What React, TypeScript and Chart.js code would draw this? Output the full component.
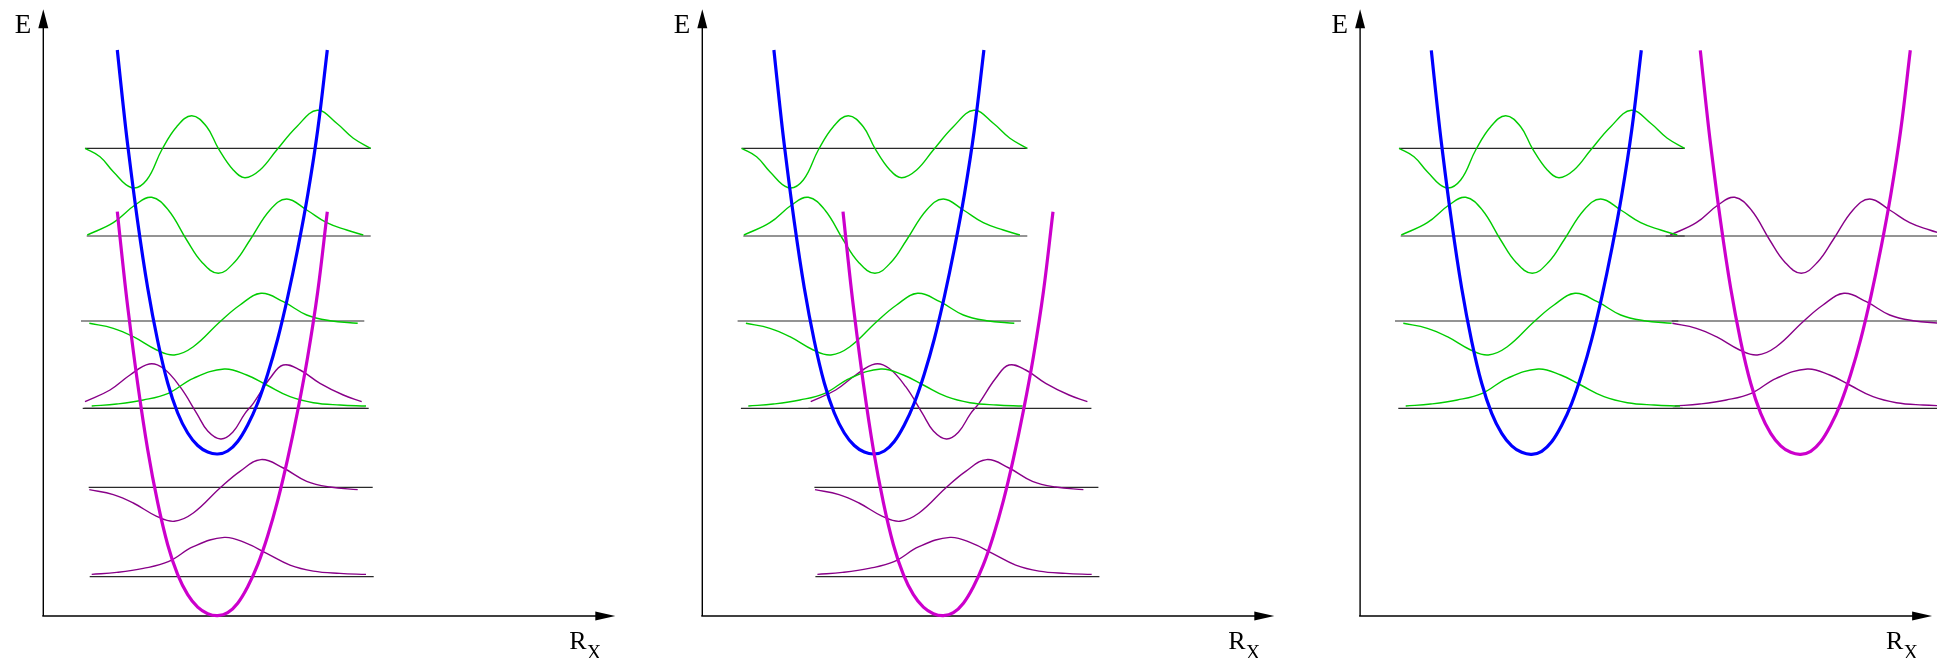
import React, { useEffect, useRef } from "react";
import { Chart, registerables } from "chart.js";

Chart.register(...registerables);

// ---------- DATA (R and E in arbitrary units; origin at the axes' corner) ----------

// Potential-well profile relative to its minimum: [ΔR, ΔE]
const WELL_PROFILE: [number, number][] = [
  [-10.04, 40.4], [-9.5, 35.3], [-9.0, 30.9], [-8.0, 23.2], [-7.0, 16.6], [-6.0, 11.3],
  [-5.0, 7.1], [-4.0, 4.1], [-3.0, 2.1], [-2.0, 0.85], [-1.0, 0.2], [0, 0],
  [1.0, 0.3], [2.0, 1.25], [3.0, 2.9], [4.0, 5.1], [5.0, 8.0], [6.0, 11.5], [7.0, 15.7],
  [8.0, 20.5], [9.0, 25.9], [10.0, 32.4], [10.96, 40.4],
];

// Vibrational wavefunctions, relative to well centre (ΔR) and to their level (ΔE)
const PSI_V0: [number, number][] = [
  [-12.6, 0.23], [-10.1, 0.43], [-7.44, 0.83], [-4.94, 1.5], [-2.44, 3.0], [0.66, 3.93],
  [2.9, 3.33], [4.9, 2.33], [7.23, 1.16], [9.56, 0.56], [12.23, 0.33], [14.83, 0.23],
];
const PSI_V1: [number, number][] = [
  [-12.84, -0.23], [-10.44, -0.73], [-8.44, -1.57], [-6.1, -2.9], [-4.34, -3.4], [-2.44, -2.57],
  [0.23, -0.07], [2.23, 1.6], [4.33, 2.77], [6.56, 1.93], [8.9, 0.6], [11.23, 0.03], [14.0, -0.23],
];
const PSI_V2: [number, number][] = [
  [-13.04, 0.1], [-10.44, 1.33], [-8.27, 3.1], [-6.6, 3.87], [-4.94, 2.6], [-3.1, -0.4],
  [-1.6, -2.6], [0.06, -3.73], [1.7, -2.6], [3.23, -0.4],
  [5.23, 2.6], [6.9, 3.7], [8.9, 2.6], [10.9, 1.33], [12.9, 0.6], [14.56, 0.1],
];
const PSI_V3: [number, number][] = [
  [-13.27, 0], [-11.77, -0.84], [-10.44, -2.34], [-8.6, -3.94], [-7.1, -3.17], [-5.6, -0.17],
  [-4.1, 2.16], [-2.6, 3.26], [-1.1, 2.16], [0.06, 0], [1.56, -2.17], [2.73, -2.94],
  [4.23, -2.17], [5.9, -0.17], [7.9, 2.16], [9.96, 3.8], [11.9, 2.5], [13.56, 1.0], [15.3, 0],
];
// lower-state v=2 as drawn in the first two panels
const PSI_V2_LOW: [number, number][] = [
  [-13.27, 0.66], [-10.77, 1.83], [-8.77, 3.33], [-6.84, 4.43], [-5.44, 4.0], [-3.77, 2.16],
  [-2.1, -0.5], [-1.0, -2.27], [0.3, -3.07], [1.5, -2.4], [2.7, -0.55], [3.56, 0.5],
  [5.23, 3.0], [6.56, 4.33], [8.23, 3.83], [10.23, 2.5], [12.56, 1.33], [14.4, 0.66],
];

// Upper (blue) state levels and their baseline extents
const GREEN_LEVELS = [20.77, 29.5, 38.0, 46.77];
const GREEN_LINE_FROM = [-13.34, -13.67, -13.1, -13.27];
const GREEN_LINE_TO = [15.1, 14.66, 15.3, 15.3];

// Lower (magenta) state levels
const PURPLE_LEVELS_LOW = [3.93, 12.87, 20.77];   // panels 1 and 2
const PURPLE_LEVELS_SIDE = [20.77, 29.5, 38.0];   // panel 3
const PURPLE_LINE_FROM = [-12.8, -12.9, -13.5];
const PURPLE_LINE_TO = [15.6, 15.5, 14.8];

// Well minima per panel: [R, E]
const BLUE_MIN: [number, number][] = [[17.44, 16.2], [17.2, 16.2], [17.16, 16.17]];
const MAGENTA_MIN: [number, number][] = [[17.44, 0.03], [24.11, 0.03], [44.06, 16.17]];

const AXIS_R_MAX = 57.2;
const AXIS_E_MAX = 60.67;
const LABEL_E = "E";
const LABEL_R = "R";
const LABEL_R_SUB = "X";

// ---------- STYLE / LAYOUT ----------
const COLORS = {
  blue: "#0000ff",
  magenta: "#cc00cc",
  green: "#00cc00",
  purple: "#880088",
  level: "#2a2a2a",
};
const PLOT_W = 572;
const PANELS = [
  { x0: 0, w: 656, padL: 43.3 },
  { x0: 656, w: 660, padL: 46.3 },
  { x0: 1316, w: 621, padL: 44.1 },
];

const place = (shape: [number, number][], r0: number, e0: number) =>
  shape.map(([dr, de]) => ({ x: r0 + dr, y: e0 + de }));

function buildDatasets(p: number) {
  const ds: any[] = [];
  const [bR, bE] = BLUE_MIN[p];
  const [mR, mE] = MAGENTA_MIN[p];
  const common = { pointRadius: 0, pointHoverRadius: 0, clip: false, fill: false };
  const smooth = { tension: 0.4 };

  ds.push({ ...common, ...smooth, data: place(WELL_PROFILE, mR, mE), borderColor: COLORS.magenta, borderWidth: 3.2, order: 0 });
  ds.push({ ...common, ...smooth, data: place(WELL_PROFILE, bR, bE), borderColor: COLORS.blue, borderWidth: 3.2, order: 1 });

  const greenShapes = [PSI_V0, PSI_V1, PSI_V2, PSI_V3];
  GREEN_LEVELS.forEach((lev, i) => {
    ds.push({ ...common, ...smooth, data: place(greenShapes[i], bR, lev), borderColor: COLORS.green, borderWidth: 1.4, order: 2 });
    ds.push({ ...common, data: [{ x: bR + GREEN_LINE_FROM[i], y: lev }, { x: bR + GREEN_LINE_TO[i], y: lev }], borderColor: COLORS.level, borderWidth: 1.2, order: 3 });
  });

  const purpleLevels = p < 2 ? PURPLE_LEVELS_LOW : PURPLE_LEVELS_SIDE;
  const purpleShapes = p < 2 ? [PSI_V0, PSI_V1, PSI_V2_LOW] : [PSI_V0, PSI_V1, PSI_V2];
  purpleLevels.forEach((lev, i) => {
    ds.push({ ...common, ...smooth, data: place(purpleShapes[i], mR, lev), borderColor: COLORS.purple, borderWidth: 1.4, order: 2 });
    ds.push({ ...common, data: [{ x: mR + PURPLE_LINE_FROM[i], y: lev }, { x: mR + PURPLE_LINE_TO[i], y: lev }], borderColor: COLORS.level, borderWidth: 1.2, order: 3 });
  });
  return ds;
}

const arrowAxes = {
  id: "arrowAxes",
  beforeDatasetsDraw(chart: any) {
    const { ctx } = chart;
    const xs = chart.scales.x;
    const ys = chart.scales.y;
    const ox = xs.getPixelForValue(0);
    const oy = ys.getPixelForValue(0);
    const top = ys.getPixelForValue(AXIS_E_MAX);
    const right = xs.getPixelForValue(AXIS_R_MAX);
    ctx.save();
    ctx.strokeStyle = "#000";
    ctx.fillStyle = "#000";
    ctx.lineWidth = 1.4;
    ctx.beginPath();
    ctx.moveTo(ox, oy);
    ctx.lineTo(ox, top + 14);
    ctx.stroke();
    ctx.beginPath();
    ctx.moveTo(ox - 1, oy);
    ctx.lineTo(right - 14, oy);
    ctx.stroke();
    ctx.beginPath();
    ctx.moveTo(ox, top);
    ctx.lineTo(ox - 5, top + 19);
    ctx.lineTo(ox + 5, top + 19);
    ctx.closePath();
    ctx.fill();
    ctx.beginPath();
    ctx.moveTo(right, oy);
    ctx.lineTo(right - 20, oy - 4.5);
    ctx.lineTo(right - 20, oy + 4.5);
    ctx.closePath();
    ctx.fill();

    ctx.textBaseline = "alphabetic";
    ctx.textAlign = "right";
    ctx.font = "normal 400 27px 'Liberation Serif'";
    ctx.fillText(LABEL_E, ox - 12, top + 24);
    ctx.textAlign = "left";
    ctx.font = "normal 400 26px 'Liberation Serif'";
    const rx = right - 46;
    ctx.fillText(LABEL_R, rx, oy + 33);
    const w = ctx.measureText(LABEL_R).width;
    ctx.font = "normal 400 20px 'Liberation Serif'";
    ctx.fillText(LABEL_R_SUB, rx + w, oy + 43);
    ctx.restore();
  },
};

function Panel({ idx }: { idx: number }) {
  const ref = useRef<HTMLCanvasElement>(null);
  const lay = PANELS[idx];
  useEffect(() => {
    if (!ref.current) return;
    const chart = new Chart(ref.current, {
      type: "line",
      data: { datasets: buildDatasets(idx) },
      options: {
        responsive: false,
        animation: false,
        devicePixelRatio: 1,
        events: [],
        layout: {
          padding: { left: lay.padL, right: lay.w - lay.padL - PLOT_W, top: 9.3, bottom: 42 },
        },
        scales: {
          x: { type: "linear", min: 0, max: AXIS_R_MAX, display: false },
          y: { type: "linear", min: 0, max: AXIS_E_MAX, display: false },
        },
        plugins: { legend: { display: false }, tooltip: { enabled: false } },
      } as any,
      plugins: [arrowAxes],
    });
    return () => chart.destroy();
  }, [idx]);
  return (
    <canvas
      ref={ref}
      width={lay.w}
      height={658}
      style={{ position: "absolute", left: lay.x0, top: 0, width: lay.w, height: 658, display: "block" }}
    />
  );
}

export default function App() {
  return (
    <div style={{ position: "absolute", left: 0, top: 0, width: 1937, height: 658, background: "#fff", overflow: "hidden" }}>
      <Panel idx={0} />
      <Panel idx={1} />
      <Panel idx={2} />
    </div>
  );
}
